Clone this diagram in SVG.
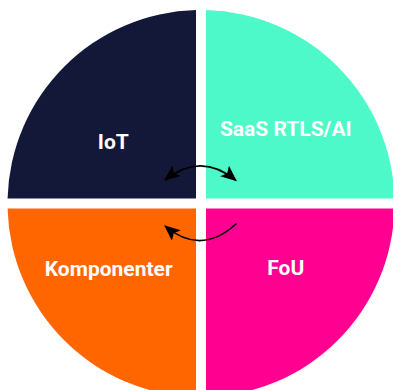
<svg xmlns="http://www.w3.org/2000/svg" width="393" height="390" viewBox="0 0 393 390">
  <style>
    .lbl { font-family: Roboto, "Liberation Sans", sans-serif; font-weight: 700; font-size: 21px; fill: #ffffff; text-anchor: middle; }
    .conn { fill: none; stroke: #000000; stroke-width: 1.6; }
  </style>
  <defs>
    <marker id="ah" viewBox="0 0 14 12" refX="13" refY="6" markerWidth="16" markerHeight="13.7" markerUnits="userSpaceOnUse" orient="auto-start-reverse">
      <path d="M0,0 L14,6 L0,12 L3,6 Z" fill="#000000"/>
    </marker>
  </defs>
  <rect width="393" height="390" fill="#ffffff"/>
  <g id="iot">
    <path d="M196,198.5 L196,10.07 A193.5,193.5 0 0 0 7.57,198.5 Z" fill="#141838"/>
    <text class="lbl" x="113.3" y="149.3">IoT</text>
  </g>
  <g id="saas">
    <path d="M206,198.5 L206,10.07 A193.5,193.5 0 0 1 394.43,198.5 Z" fill="#4DF9C9"/>
    <text class="lbl" x="285.8" y="135.7">SaaS RTLS/AI</text>
  </g>
  <g id="komponenter">
    <path d="M196,208.5 L7.57,208.5 A193.5,193.5 0 0 0 196,396.93 Z" fill="#FF6600"/>
    <text class="lbl" x="108.7" y="276">Komponenter</text>
  </g>
  <g id="fou">
    <path d="M206,208.5 L394.43,208.5 A193.5,193.5 0 0 1 206,396.93 Z" fill="#FF0090"/>
    <text class="lbl" x="285.8" y="275">FoU</text>
  </g>
  <g id="connectors">
    <path class="conn" d="M165,180 Q201,151.4 236,180.5" marker-start="url(#ah)" marker-end="url(#ah)"/>
    <path class="conn" d="M236.5,223.5 Q201,256.3 165,226" marker-end="url(#ah)"/>
  </g>
</svg>
